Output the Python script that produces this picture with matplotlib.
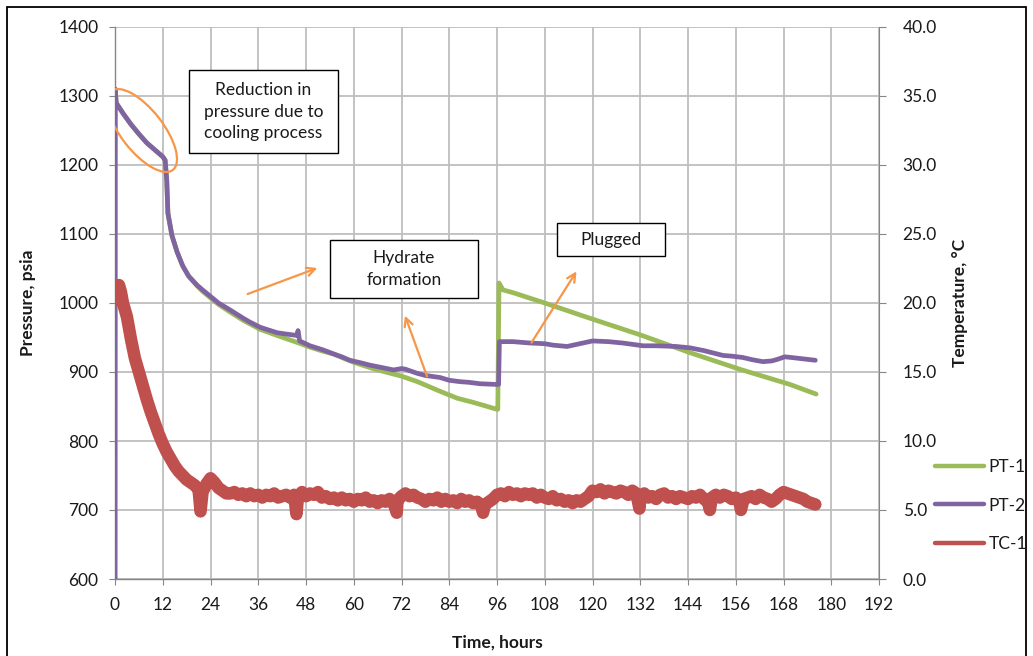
import matplotlib
matplotlib.use("Agg")
import matplotlib.pyplot as plt
from matplotlib.patches import Rectangle, Ellipse
from matplotlib.transforms import ScaledTranslation
from matplotlib.ticker import FormatStrFormatter

plt.rcParams['font.family'] = ['Lato', 'DejaVu Sans']

# ---------------- data ----------------
pt2_t = [0, 0.05, 0.3, 2, 4, 6, 8, 10, 12, 12.6, 13.0, 13.3, 14.3, 15.6, 17, 18.5,
         20.6, 22, 23.9, 26, 28.9, 32.2, 34, 36.4, 38, 40.7, 43, 45.7, 46.0, 46.4,
         49, 52.3, 55, 57, 59, 62, 64, 66.6, 70, 72, 73, 76, 78, 81.7, 84, 86.7,
         89, 91.7, 95.8, 96.4, 96.6, 100, 104.3, 108, 110, 113.6, 116, 120, 124,
         127.6, 132.7, 136, 141, 144.5, 148, 152.8, 155, 157.8, 160, 162.8, 165,
         166.3, 168.3, 170, 173, 176]
pt2_p = [600, 1310, 1290, 1275, 1259, 1245, 1232, 1222, 1212, 1207, 1178, 1130, 1098,
         1074, 1054, 1039, 1026, 1019, 1010, 1000, 990, 978, 972, 965, 962, 957, 955,
         953, 960, 945, 938, 932, 926, 922, 917, 913, 910, 907, 903, 905, 904, 898,
         895, 892, 888, 886, 885, 883, 882, 882, 944, 944, 942, 941, 939, 937, 940,
         945, 944, 942, 938, 938, 937, 935, 931, 924, 923, 921, 918, 915, 916, 918,
         922, 921, 919, 917]

pt1_t = [0, 0.05, 0.3, 2, 4, 6, 8, 10, 12, 12.6, 13.0, 13.3, 14.3, 15.6, 17, 18.5,
         20.6, 22, 23.9, 26, 28.9, 32.2, 36.4, 40.7, 45.7, 49, 52.3, 55, 57, 60,
         64.8, 68, 72, 76, 81.7, 86, 90, 93, 95.9, 96.2, 96.5, 97.5, 100, 108,
         119.3, 131.9, 144.5, 157, 169.6, 176.2]
pt1_p = [600, 1310, 1290, 1275, 1259, 1245, 1232, 1222, 1212, 1207, 1178, 1130, 1098,
         1074, 1054, 1039, 1025, 1017, 1008, 998, 987, 975, 962, 953, 943, 936, 930,
         926, 921, 914, 905, 900, 894, 886, 872, 862, 856, 851, 846, 846, 1029, 1019,
         1015, 1000, 978, 954, 928, 904, 882, 868]

tc1_t = [0, 0.5, 1, 1.5, 2, 3, 4, 5, 6, 7, 8, 9, 10, 11, 12, 13, 14, 15, 16, 17, 18,
         19, 20, 21, 21.5, 22, 23, 24, 25, 26, 27, 28, 29, 30, 31, 32, 33, 34, 35, 36,
         37, 38, 39, 40, 41, 42, 43, 44, 45, 45.6, 46, 47, 48, 49, 50, 51, 52, 53, 54,
         55, 56, 57, 58, 59, 60, 61, 62, 63, 64, 65, 66, 67, 68, 69, 70, 70.8, 71, 72,
         73, 74, 75, 76, 77, 78, 79, 80, 81, 82, 83, 84, 85, 86, 87, 88, 89, 90, 91,
         92, 92.5, 93, 94, 95, 96, 97, 98, 99, 100, 101, 102, 103, 104, 105, 106, 107,
         108, 109, 110, 111, 112, 113, 114, 115, 116, 117, 118, 119, 120, 121, 122,
         123, 124, 125, 126, 127, 128, 129, 130, 131, 131.8, 132, 133, 134, 135, 136,
         137, 138, 139, 140, 141, 142, 143, 144, 145, 146, 147, 148, 149, 149.5, 150,
         151, 152, 153, 154, 155, 156, 157, 157.3, 158, 159, 160, 161, 162, 163, 164,
         165, 166, 167, 168, 169, 170, 171, 172, 173, 174, 175, 176]
tc1_v = [20.2, 21.2, 21.3, 20.8, 20.0, 19.0, 17.4, 16.0, 15.0, 14.0, 13.0, 12.1, 11.3,
         10.5, 9.8, 9.2, 8.7, 8.2, 7.8, 7.5, 7.2, 7.0, 6.8, 6.5, 4.9, 6.3, 6.9, 7.3, 7.0,
         6.6, 6.4, 6.2, 6.2, 6.3, 6.1, 6.2, 6.0, 6.2, 6.0, 6.1, 5.9, 6.1, 6.0, 6.2, 5.9,
         6.0, 6.1, 5.9, 6.1, 4.7, 6.0, 6.3, 6.0, 6.2, 6.1, 6.3, 5.9, 6.0, 5.8, 5.9, 5.7,
         5.9, 5.7, 5.8, 5.6, 5.8, 5.7, 5.9, 5.6, 5.7, 5.5, 5.7, 5.6, 5.8, 5.5, 4.8, 5.7,
         6.0, 6.2, 6.0, 6.1, 5.9, 5.8, 5.6, 5.8, 5.7, 5.9, 5.6, 5.8, 5.6, 5.7, 5.5, 5.8,
         5.6, 5.7, 5.5, 5.6, 5.3, 4.8, 5.4, 5.6, 5.8, 6.1, 6.2, 6.0, 6.3, 6.1, 6.2, 6.0,
         6.2, 6.1, 6.2, 5.9, 6.1, 5.9, 5.8, 6.0, 5.7, 5.8, 5.6, 5.7, 5.5, 5.7, 5.6, 5.8,
         6.0, 6.4, 6.3, 6.5, 6.2, 6.4, 6.3, 6.2, 6.4, 6.3, 6.1, 6.4, 6.2, 5.1, 6.0, 6.2,
         5.9, 6.0, 5.8, 6.1, 6.2, 5.9, 6.0, 5.8, 6.0, 5.9, 5.8, 6.0, 5.9, 6.1, 5.8, 5.6,
         5.0, 5.9, 6.1, 5.9, 6.1, 6.0, 5.8, 5.9, 5.5, 5.0, 5.8, 5.9, 6.0, 5.8, 6.1, 5.9,
         5.8, 5.6, 5.8, 6.1, 6.3, 6.2, 6.1, 6.0, 5.9, 5.8, 5.6, 5.5, 5.4]

x_ticks = list(range(0, 193, 12))
p_ticks = list(range(600, 1401, 100))
t_ticks = [0, 5, 10, 15, 20, 25, 30, 35, 40]

GREEN = '#9BBB59'
PURPLE = '#8064A2'
RED = '#C0504D'
ORANGE = '#F79646'
GRID = '#BEBEBE'
AXC = '#868686'
TXT = '#1a1a1a'

W, H = 1033, 656
fig = plt.figure(figsize=(W / 100, H / 100), dpi=100)
L, R, T, B = 115, 879, 27, 579
ax = fig.add_axes([L / W, 1 - B / H, (R - L) / W, (B - T) / H])
ax.set_facecolor('white')
ax2 = ax.twinx()

def fx(x):
    return x / W

def fy(y):
    return 1 - y / H

# figure border
fig.add_artist(Rectangle((fx(7), fy(660)), fx(1026) - fx(7), fy(7) - fy(660),
                         transform=fig.transFigure, fill=False, ec='black', lw=1.3))

ax.set_xlim(0, 192)
ax.set_ylim(600, 1400)
ax2.set_ylim(0, 40)
ax.set_xticks(x_ticks)
ax.set_yticks(p_ticks)
ax2.set_yticks(t_ticks)
ax2.yaxis.set_major_formatter(FormatStrFormatter('%.1f'))

# grid lines drawn from the tick arrays
for xv in x_ticks:
    ax.axvline(xv, color=GRID, lw=1.3, alpha=1, zorder=1)
for yv in p_ticks:
    ax.axhline(yv, color=GRID, lw=1.3, alpha=1, zorder=1)

l1, = ax.plot(pt1_t, pt1_p, color=GREEN, lw=3.4, solid_capstyle='round',
              solid_joinstyle='round', label='PT-1', zorder=3)
l2, = ax.plot(pt2_t, pt2_p, color=PURPLE, lw=3.4, solid_capstyle='round',
              solid_joinstyle='round', label='PT-2', zorder=4)
l3, = ax2.plot(tc1_t, tc1_v, color=RED, lw=9, solid_capstyle='round',
               solid_joinstyle='round', label='TC-1', zorder=3)

ax2.patch.set_visible(False)

for s in ['top', 'right']:
    ax.spines[s].set_visible(False)
for s in ['left', 'bottom']:
    ax.spines[s].set_color(AXC)
    ax.spines[s].set_linewidth(1.0)
for s in ['top', 'left', 'bottom']:
    ax2.spines[s].set_visible(False)
ax2.spines['right'].set_color(AXC)

ax.tick_params(axis='y', direction='out', length=4, color=AXC, pad=8,
               labelsize=12.5, labelcolor=TXT)
ax.tick_params(axis='x', direction='out', length=4, color=AXC, pad=9,
               labelsize=12.5, labelcolor=TXT)
ax2.tick_params(axis='y', direction='out', length=5, color=AXC, pad=12,
                labelsize=12.5, labelcolor=TXT)

ax.set_ylabel('Pressure, psia', fontsize=12.5, fontweight='bold', color=TXT)
ax.yaxis.set_label_coords((36 - L) / (R - L), 0.5)
ax2.set_ylabel('Temperature, \u00b0C', fontsize=12.5, fontweight='bold', color=TXT)
ax2.yaxis.set_label_coords((952 - L) / (R - L), 0.5)
ax.set_xlabel('Time, hours', fontsize=12.5, fontweight='bold', color=TXT)
ax.xaxis.set_label_coords(0.5, (B - 635) / (B - T))

# legend
leg = fig.legend(handles=[l1, l2, l3], loc='upper left',
                 bbox_to_anchor=(fx(935), fy(459)), frameon=False, fontsize=12.5,
                 handlelength=2.8, handletextpad=0.3, labelspacing=1.3,
                 borderpad=0, borderaxespad=0)
for ln in leg.get_lines():
    ln.set_linewidth(3.2)
for tx in leg.get_texts():
    tx.set_color(TXT)

# annotation boxes
def box(x0, y0, x1, y1, text, ls=1.3):
    fig.add_artist(Rectangle((fx(x0), fy(y1)), fx(x1) - fx(x0), fy(y0) - fy(y1),
                             transform=fig.transFigure, fill=True, fc='white',
                             ec='black', lw=1.0, zorder=10))
    fig.text(fx((x0 + x1) / 2), fy((y0 + y1) / 2), text, ha='center', va='center',
             fontsize=12.5, color=TXT, linespacing=ls, zorder=11)

box(189, 70, 338, 153, 'Reduction in\npressure due to\ncooling process', ls=1.4)
box(330, 240, 478, 298, 'Hydrate\nformation', ls=1.4)
box(557, 223, 665, 256, 'Plugged')

# arrows
def arrow(x0, y0, x1, y1):
    ax.annotate('', xy=(fx(x1), fy(y1)), xytext=(fx(x0), fy(y0)),
                xycoords='figure fraction', textcoords='figure fraction',
                arrowprops=dict(arrowstyle='->,head_length=0.6,head_width=0.3',
                                color=ORANGE, lw=1.6), zorder=12)

arrow(245, 295, 320, 267)
arrow(428, 379, 404, 313)
arrow(530, 345, 578, 269)

# ellipse around initial pressure decline (size in inches, centered on data point)
ell_tr = fig.dpi_scale_trans + ScaledTranslation(6.8, 1250, ax.transData)
ax.add_artist(Ellipse((0, 0), 1.0, 0.42, angle=-52, transform=ell_tr, fill=False,
                      ec=ORANGE, lw=1.6, zorder=12))

fig.savefig('out.png', dpi=100)
